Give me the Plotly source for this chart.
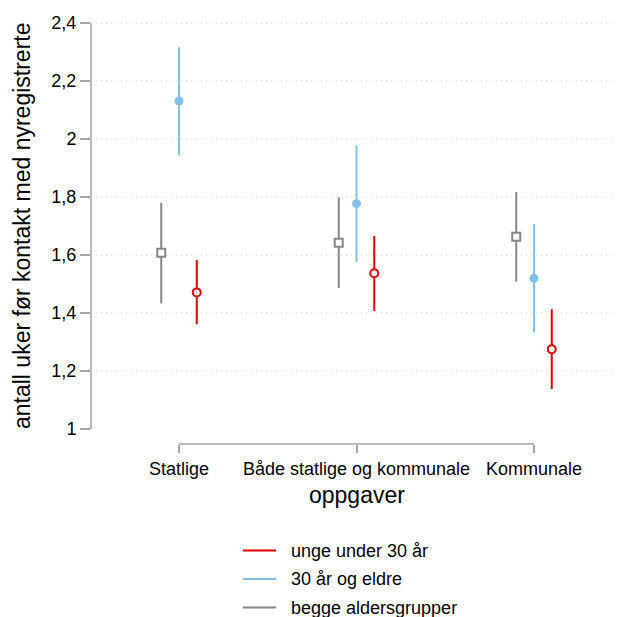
import plotly.graph_objects as go

# Task categories (x axis) and age groups
categories = ["Statlige", "Både statlige og kommunale", "Kommunale"]
groups = ["unge under 30 år", "30 år og eldre", "begge aldersgrupper"]

# Estimated weeks before contact, with 95% confidence limits
young_mean = [1.471, 1.537, 1.275]
young_low = [1.361, 1.407, 1.138]
young_high = [1.583, 1.666, 1.413]

older_mean = [2.131, 1.777, 1.520]
older_low = [1.944, 1.575, 1.333]
older_high = [2.316, 1.979, 1.707]

both_mean = [1.608, 1.642, 1.663]
both_low = [1.433, 1.486, 1.508]
both_high = [1.780, 1.798, 1.817]

y_ticks = [1, 1.2, 1.4, 1.6, 1.8, 2.0, 2.2, 2.4]
y_tick_labels = ["1", "1,2", "1,4", "1,6", "1,8", "2", "2,2", "2,4"]

RED = "#dd0000"
BLUE = "#85c0e8"
GRAY = "#868686"
AXIS = "#a6a6a6"
FONT = "Liberation Sans, Arial, Helvetica, sans-serif"

W, H = 618, 617
ML, MR, MT, MB = 91, 4, 10, 173
PW, PH = W - ML - MR, H - MT - MB


def px_to_paper_x(px):
    return (px - ML) / PW


def px_to_paper_y(py):
    return (H - MB - py) / PH


fig = go.Figure()

cat_pos = list(range(1, len(categories) + 1))

series = [
    # mean, low, high, colour, offset, marker symbol, fill, size
    (both_mean, both_low, both_high, GRAY, -0.1, "square", "white", 8),
    (older_mean, older_low, older_high, BLUE, 0.0, "circle", BLUE, 9),
    (young_mean, young_low, young_high, RED, 0.1, "circle", "white", 8),
]

for mean, low, high, col, off, sym, fill, size in series:
    fig.add_trace(go.Scatter(
        x=[p + off for p in cat_pos],
        y=mean,
        mode="markers",
        marker=dict(symbol=sym, size=size, color=fill,
                    line=dict(color=col, width=2 if fill == "white" else 0)),
        error_y=dict(type="data", symmetric=False,
                     array=[h - m for h, m in zip(high, mean)],
                     arrayminus=[m - l for m, l in zip(mean, low)],
                     color=col, thickness=2, width=0),
        showlegend=False,
        hoverinfo="skip",
    ))

shapes = []
# dotted horizontal gridlines
for v in y_ticks[1:]:
    shapes.append(dict(type="line", xref="paper", yref="y", x0=0.01, x1=1,
                       y0=v, y1=v, layer="below",
                       line=dict(color="#c4c4c4", width=1, dash="1px,4px")))
# trimmed axis lines
shapes.append(dict(type="line", xref="paper", yref="y", x0=0, x1=0,
                   y0=y_ticks[0], y1=y_ticks[-1], line=dict(color=AXIS, width=1.5)))
shapes.append(dict(type="line", xref="x", yref="paper", x0=cat_pos[0], x1=cat_pos[-1],
                   y0=0, y1=0, line=dict(color=AXIS, width=1.5)))

annotations = [
    dict(text="oppgaver", xref="x", yref="paper", x=2, y=0, yshift=-51,
         xanchor="center", yanchor="middle", showarrow=False,
         font=dict(size=23)),
    dict(text="antall uker før kontakt med nyregistrerte", xref="paper", yref="y",
         x=0, y=1.7, xshift=-69, xanchor="center", yanchor="middle",
         textangle=-90, showarrow=False, font=dict(size=23)),
]

# legend key below the plot: a line sample and a label per age group
legend_rows = [550.5, 579, 607.5]
for name, col, row in zip(groups, [RED, BLUE, GRAY], legend_rows):
    yp = px_to_paper_y(row)
    shapes.append(dict(type="line", xref="paper", yref="paper",
                       x0=px_to_paper_x(243), x1=px_to_paper_x(276), y0=yp, y1=yp,
                       line=dict(color=col, width=2)))
    annotations.append(dict(text=name, xref="paper", yref="paper",
                            x=px_to_paper_x(289), y=yp, xanchor="left",
                            yanchor="middle", showarrow=False,
                            font=dict(size=18)))

fig.update_layout(
    width=W, height=H,
    margin=dict(l=ML, r=MR, t=MT, b=MB, autoexpand=False),
    paper_bgcolor="white", plot_bgcolor="white",
    font=dict(family=FONT, size=18, color="black"),
    showlegend=False,
    shapes=shapes,
    annotations=annotations,
    xaxis=dict(range=[0.5042, 3.4507], tickvals=cat_pos, ticktext=categories,
               showgrid=False, zeroline=False, showline=False, automargin=False,
               ticks="outside", ticklen=8, tickcolor=AXIS, tickwidth=1.5,
               tickfont=dict(size=18)),
    yaxis=dict(range=[0.94828, 2.44483], tickvals=y_ticks, ticktext=y_tick_labels,
               showgrid=False, zeroline=False, showline=False, automargin=False,
               ticks="outside", ticklen=10, tickcolor=AXIS, tickwidth=1.5,
               tickfont=dict(size=18)),
)

fig.write_html("out.html")
